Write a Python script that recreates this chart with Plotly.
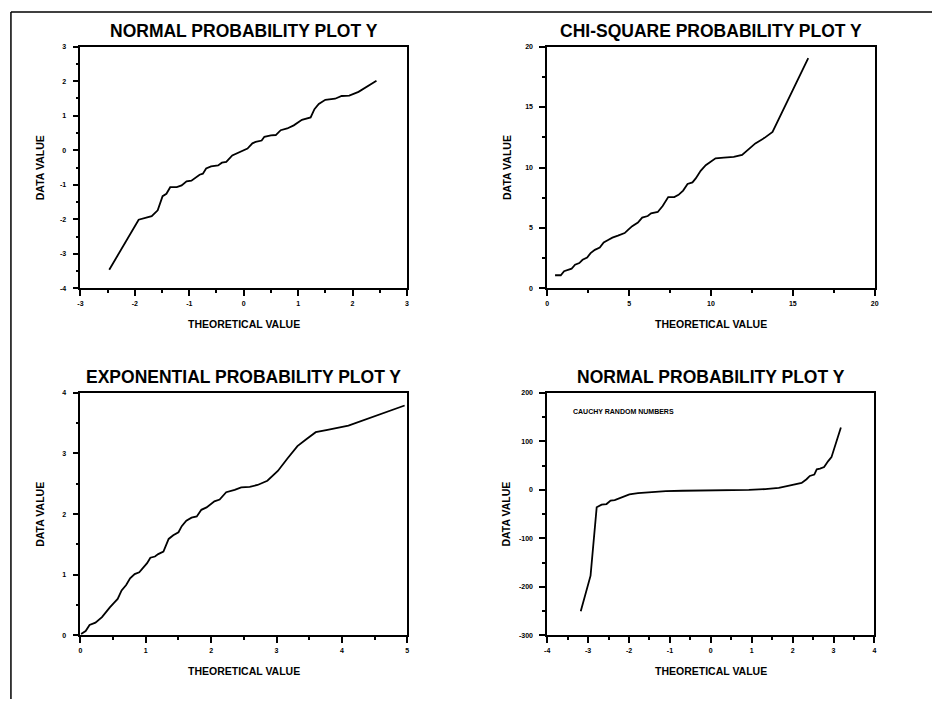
import plotly.graph_objects as go

# ---------------- data ----------------
normal_x = [-2.47, -1.93, -1.69, -1.58, -1.49, -1.42, -1.35, -1.23, -1.14, -1.05,
            -0.96, -0.81, -0.75, -0.69, -0.60, -0.47, -0.40, -0.32, -0.21, -0.11,
            -0.02, 0.07, 0.16, 0.22, 0.33, 0.38, 0.50, 0.59, 0.68, 0.80,
            0.92, 1.07, 1.23, 1.30, 1.38, 1.50, 1.68, 1.80, 1.94, 2.11, 2.44]
normal_y = [-3.46, -2.01, -1.91, -1.74, -1.33, -1.26, -1.07, -1.07, -1.02, -0.90,
            -0.88, -0.71, -0.68, -0.53, -0.47, -0.44, -0.36, -0.34, -0.15, -0.08,
            0.00, 0.05, 0.20, 0.24, 0.28, 0.39, 0.43, 0.44, 0.58, 0.63,
            0.72, 0.88, 0.95, 1.19, 1.34, 1.46, 1.49, 1.57, 1.58, 1.69, 2.01]

chisq_x = [0.48, 0.83, 1.03, 1.49, 1.70, 1.96, 2.16, 2.44, 2.65, 2.91,
           3.21, 3.45, 3.72, 3.98, 4.32, 4.73, 4.97, 5.19, 5.54, 5.80,
           6.14, 6.34, 6.75, 7.05, 7.39, 7.76, 8.02, 8.30, 8.57, 8.87,
           9.07, 9.37, 9.68, 9.98, 10.28, 10.79, 11.39, 11.90, 12.30, 12.71,
           13.27, 13.76, 15.94]
chisq_y = [1.09, 1.09, 1.42, 1.63, 1.96, 2.10, 2.37, 2.56, 2.92, 3.19,
           3.38, 3.81, 4.01, 4.20, 4.36, 4.58, 4.88, 5.15, 5.45, 5.86,
           5.99, 6.21, 6.32, 6.81, 7.55, 7.55, 7.74, 8.09, 8.64, 8.77,
           9.10, 9.73, 10.19, 10.49, 10.76, 10.82, 10.87, 11.04, 11.50, 11.99,
           12.45, 12.94, 19.05]

expo_x = [0.01, 0.08, 0.14, 0.23, 0.33, 0.39, 0.45, 0.51, 0.57, 0.63,
          0.70, 0.76, 0.83, 0.90, 0.97, 1.02, 1.07, 1.14, 1.19, 1.27,
          1.35, 1.42, 1.50, 1.55, 1.62, 1.70, 1.78, 1.85, 1.93, 1.98,
          2.05, 2.13, 2.23, 2.36, 2.46, 2.59, 2.71, 2.86, 3.02, 3.17,
          3.32, 3.45, 3.60, 3.78, 4.10, 4.96]
expo_y = [0.02, 0.07, 0.17, 0.21, 0.30, 0.39, 0.46, 0.53, 0.60, 0.74,
          0.83, 0.94, 1.01, 1.04, 1.13, 1.19, 1.28, 1.30, 1.34, 1.38,
          1.59, 1.65, 1.70, 1.80, 1.89, 1.94, 1.96, 2.07, 2.11, 2.15,
          2.21, 2.24, 2.36, 2.40, 2.44, 2.45, 2.48, 2.55, 2.71, 2.92,
          3.12, 3.23, 3.35, 3.39, 3.46, 3.79]

cauchy_x = [-3.18, -2.94, -2.79, -2.67, -2.55, -2.45, -2.35, -2.23, -2.11, -1.99,
            -1.78, -1.50, -1.10, -0.69, 0.00, 0.52, 0.93, 1.33, 1.66, 1.86,
            2.02, 2.22, 2.34, 2.42, 2.53, 2.59, 2.67, 2.77, 2.87, 2.95, 3.18]
cauchy_y = [-250.3, -176.9, -36.0, -30.6, -29.3, -22.4, -21.1, -17.0, -12.2, -9.5,
            -6.8, -4.8, -2.7, -2.0, -1.4, -0.7, 0.0, 1.4, 4.1, 7.5,
            10.9, 14.3, 21.8, 28.6, 31.3, 42.2, 43.5, 46.9, 59.2, 67.3, 128.6]

# tick values / labels for each panel
p1_xticks = [-3, -2, -1, 0, 1, 2, 3]
p1_yticks = [-4, -3, -2, -1, 0, 1, 2, 3]
p2_xticks = [0, 5, 10, 15, 20]
p2_yticks = [0, 5, 10, 15, 20]
p3_xticks = [0, 1, 2, 3, 4, 5]
p3_yticks = [0, 1, 2, 3, 4]
p4_xticks = [-4, -3, -2, -1, 0, 1, 2, 3, 4]
p4_yticks = [-300, -200, -100, 0, 100, 200]

titles = ["NORMAL PROBABILITY PLOT Y", "CHI-SQUARE PROBABILITY PLOT Y",
          "EXPONENTIAL PROBABILITY PLOT Y", "NORMAL PROBABILITY PLOT Y"]
x_label = "THEORETICAL VALUE"
y_label = "DATA VALUE"
note_text = "CAUCHY RANDOM NUMBERS"

# ---------------- layout geometry ----------------
W, H = 936, 702
FONT = "Liberation Sans, Arial, sans-serif"


def px_x(p):
    return p / W


def px_y(p):
    return 1 - p / H


def lab(v):
    # plain ASCII hyphen for negatives, as in the reference
    return str(v)


panels = [
    dict(xd=(78, 407), yd=(43, 287.3), xr=[-3, 3], yr=[-4, 3],
         xt=p1_xticks, yt=p1_yticks, xm=0.5, ym=0.5),
    dict(xd=(548.3, 878.3), yd=(43, 287.3), xr=[0, 20], yr=[0, 20],
         xt=p2_xticks, yt=p2_yticks, xm=2.5, ym=2.5),
    dict(xd=(78, 407.3), yd=(392.7, 637.7), xr=[0, 5], yr=[0, 4],
         xt=p3_xticks, yt=p3_yticks, xm=0.5, ym=0.5),
    dict(xd=(548.3, 878), yd=(392.7, 637.7), xr=[-4, 4], yr=[-300, 200],
         xt=p4_xticks, yt=p4_yticks, xm=0.5, ym=50),
]
series = [(normal_x, normal_y), (chisq_x, chisq_y), (expo_x, expo_y), (cauchy_x, cauchy_y)]

fig = go.Figure()
annotations = []
layout_axes = {}
tickfont = dict(family=FONT, size=7, color="black", weight="bold")

for i, (p, (sx, sy)) in enumerate(zip(panels, series), start=1):
    suffix = "" if i == 1 else str(i)
    fig.add_trace(go.Scatter(x=sx, y=sy, mode="lines",
                             line=dict(color="black", width=1.8),
                             xaxis="x" + suffix, yaxis="y" + suffix,
                             showlegend=False, hoverinfo="x+y"))
    common = dict(showline=True, mirror=True, linecolor="black", linewidth=1.6,
                  showgrid=False, zeroline=False, ticks="outside", ticklen=6,
                  tickwidth=1.5, tickcolor="black", tickfont=tickfont,
                  fixedrange=True)
    layout_axes["xaxis" + suffix] = dict(
        common, domain=[px_x(p["xd"][0]), px_x(p["xd"][1])],
        range=p["xr"], tickmode="array", tickvals=p["xt"],
        ticktext=[lab(v) for v in p["xt"]], anchor="y" + suffix,
        ticklabelstandoff=1,
        minor=dict(ticks="outside", ticklen=3, tickwidth=1.5, tickcolor="black",
                   dtick=p["xm"], tick0=0, showgrid=False))
    layout_axes["yaxis" + suffix] = dict(
        common, domain=[px_y(p["yd"][1]), px_y(p["yd"][0])],
        range=p["yr"], tickmode="array", tickvals=p["yt"],
        ticktext=[lab(v) for v in p["yt"]], anchor="x" + suffix,
        ticklabelstandoff=5,
        minor=dict(ticks="outside", ticklen=3, tickwidth=1.5, tickcolor="black",
                   dtick=p["ym"], tick0=0, showgrid=False))
    cx = (p["xd"][0] + p["xd"][1]) / 2
    cy = (p["yd"][0] + p["yd"][1]) / 2
    annotations.append(dict(text=titles[i - 1], x=px_x(cx), y=px_y(p["yd"][0] - 4),
                            xref="paper", yref="paper", xanchor="center", yanchor="bottom",
                            showarrow=False,
                            font=dict(family=FONT, size=17.5, color="black", weight="bold")))
    annotations.append(dict(text=x_label, x=px_x(cx), y=px_y(p["yd"][1] + 36),
                            xref="paper", yref="paper", xanchor="center", yanchor="middle",
                            showarrow=False,
                            font=dict(family=FONT, size=10.5, color="black", weight="bold")))
    annotations.append(dict(text=y_label, x=px_x(p["xd"][0] - 41), y=px_y(cy),
                            xref="paper", yref="paper", xanchor="center", yanchor="middle",
                            textangle=-90, showarrow=False,
                            font=dict(family=FONT, size=10.5, color="black", weight="bold")))

annotations.append(dict(text=note_text, x=px_x(572), y=px_y(411.3),
                        xref="paper", yref="paper", xanchor="left", yanchor="middle",
                        showarrow=False,
                        font=dict(family=FONT, size=7, color="black", weight="bold")))

shapes = [
    dict(type="line", xref="paper", yref="paper", x0=px_x(8), x1=1.0, y0=px_y(8), y1=px_y(8),
         line=dict(color="black", width=1.5)),
    dict(type="line", xref="paper", yref="paper", x0=px_x(8), x1=px_x(8), y0=px_y(8), y1=0,
         line=dict(color="black", width=1.5)),
]

fig.update_layout(
    width=W, height=H,
    margin=dict(l=0, r=0, t=0, b=0),
    paper_bgcolor="white", plot_bgcolor="white",
    annotations=annotations, shapes=shapes,
    **layout_axes,
)

# remove the default page margin so the 936x702 figure fills the window exactly
fig.write_html("out.html",
               config={"displayModeBar": False},
               post_script="document.body.style.margin='0';document.body.style.overflow='hidden';")
